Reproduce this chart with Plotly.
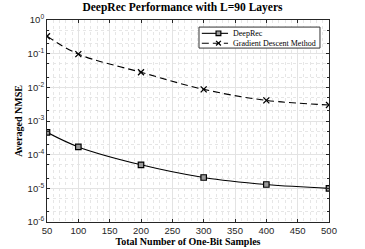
import plotly.graph_objects as go

samples = [50, 100, 200, 300, 400, 500]
deeprec = [4.6e-4, 1.7e-4, 5.0e-5, 2.1e-5, 1.3e-5, 1.0e-5]
gradient = [0.33, 0.097, 0.028, 0.0087, 0.0041, 0.0030]
x_ticks = [50, 100, 150, 200, 250, 300, 350, 400, 450, 500]
y_tickvals = [1, 0.1, 0.01, 1e-3, 1e-4, 1e-5, 1e-6]
y_ticktext = ["10<sup>0</sup>", "10<sup>-1</sup>", "10<sup>-2</sup>", "10<sup>-3</sup>",
              "10<sup>-4</sup>", "10<sup>-5</sup>", "10<sup>-6</sup>"]
legend_names = ["DeepRec", "Gradient Descent Method"]

serif = "Liberation Serif"
sans = "Liberation Sans"
DASH = "7px,4px"

fig = go.Figure()
fig.add_trace(go.Scatter(
    x=samples, y=deeprec, name=legend_names[0], mode="lines+markers",
    line=dict(color="black", width=1.1, shape="spline"),
    marker=dict(symbol="square", size=5.5, color="#9a9a9a", line=dict(width=1.2, color="black")),
))
fig.add_trace(go.Scatter(
    x=samples, y=gradient, name=legend_names[1], mode="lines+markers",
    line=dict(color="black", width=1.1, dash=DASH, shape="spline"),
    marker=dict(symbol="x-thin-open", size=6, color="black", line=dict(width=1.3, color="black")),
))

# compact MATLAB-style legend (decoration in paper coordinates)
box = dict(x0=0.539, x1=0.968, y0=0.861, y1=0.965)
rows = [0.934, 0.885]
lx0, lx1, mx, tx = 0.549, 0.642, 0.608, 0.652
dx, dy = 0.0085, 0.0115
shapes = [dict(type="rect", xref="paper", yref="paper", **box,
               fillcolor="white", line=dict(color="#333333", width=1), layer="above")]
shapes.append(dict(type="line", xref="paper", yref="paper", x0=lx0, x1=lx1, y0=rows[0], y1=rows[0],
                   line=dict(color="black", width=1.1), layer="above"))
shapes.append(dict(type="rect", xref="paper", yref="paper", x0=mx - dx, x1=mx + dx,
                   y0=rows[0] - dy, y1=rows[0] + dy, fillcolor="#9a9a9a",
                   line=dict(color="black", width=1.2), layer="above"))
shapes.append(dict(type="line", xref="paper", yref="paper", x0=lx0, x1=lx1, y0=rows[1], y1=rows[1],
                   line=dict(color="black", width=1.1, dash=DASH), layer="above"))
shapes.append(dict(type="line", xref="paper", yref="paper", x0=mx - dx, x1=mx + dx,
                   y0=rows[1] - dy, y1=rows[1] + dy, line=dict(color="black", width=1.3), layer="above"))
shapes.append(dict(type="line", xref="paper", yref="paper", x0=mx - dx, x1=mx + dx,
                   y0=rows[1] + dy, y1=rows[1] - dy, line=dict(color="black", width=1.3), layer="above"))
annotations = [dict(x=tx, y=r, xref="paper", yref="paper", text=n, showarrow=False,
                    xanchor="left", yanchor="middle",
                    font=dict(family=serif, size=8, color="black"))
               for n, r in zip(legend_names, rows)]

fig.update_layout(
    width=365, height=249,
    margin=dict(l=47, r=36, t=20, b=27),
    paper_bgcolor="white", plot_bgcolor="white",
    title=dict(text="<b>DeepRec Performance with L=90 Layers</b>", x=0.5, xanchor="center",
               y=0.988, yanchor="top", font=dict(family=serif, size=11.5, color="black")),
    showlegend=False,
    shapes=shapes,
    annotations=annotations,
    xaxis=dict(
        range=[50, 500], tickvals=x_ticks, ticks="inside", ticklen=3, tickcolor="#262626",
        showline=True, linecolor="#262626", linewidth=1, mirror="ticks",
        showgrid=True, gridcolor="#e3e3e3", gridwidth=1, automargin=False,
        tickfont=dict(family=sans, size=9.5, color="#262626"),
        title=dict(text="<b>Total Number of One-Bit Samples</b>", standoff=1,
                   font=dict(family=serif, size=10, color="black")),
        minor=dict(dtick=10, showgrid=True, gridcolor="#e6e6e6", griddash="dot", gridwidth=1),
        zeroline=False,
    ),
    yaxis=dict(
        type="log", range=[-6, 0], tickvals=y_tickvals, ticktext=y_ticktext,
        ticks="inside", ticklen=3, tickcolor="#262626",
        showline=True, linecolor="#262626", linewidth=1, mirror="ticks",
        showgrid=True, gridcolor="#e3e3e3", gridwidth=1, automargin=False,
        tickfont=dict(family=sans, size=9.5, color="#262626"),
        title=dict(text="<b>Averaged NMSE</b>", standoff=3,
                   font=dict(family=serif, size=10, color="black")),
        minor=dict(showgrid=True, gridcolor="#e6e6e6", griddash="dot", gridwidth=1,
                   ticks="inside", ticklen=2, tickcolor="#262626"),
        zeroline=False,
    ),
)

fig.write_html("out.html", config={"displayModeBar": False},
               post_script="document.body.style.margin='0';document.body.style.overflow='hidden';")
